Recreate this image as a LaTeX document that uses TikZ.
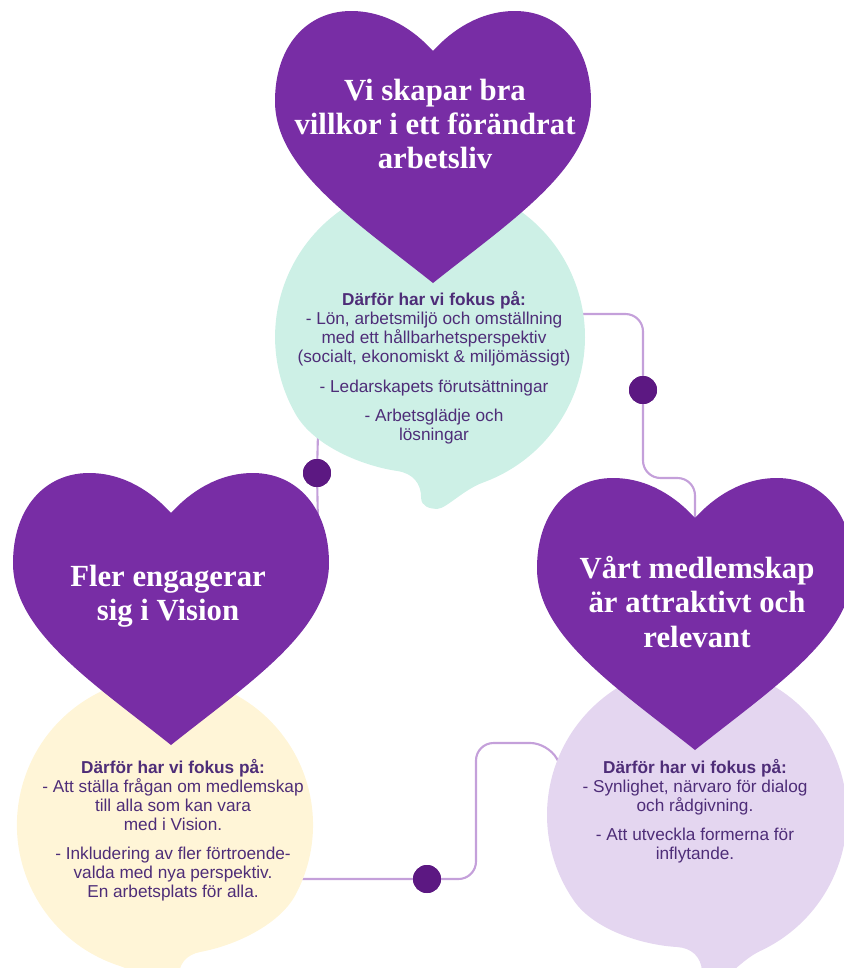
\documentclass[tikz,border=0pt]{standalone}
\usepackage{fontspec}
\setmainfont{Liberation Sans}
\newfontfamily\titlefont{Liberation Serif}
\definecolor{heartpurple}{HTML}{782DA5}
\definecolor{dotpurple}{HTML}{5C1882}
\definecolor{linkpurple}{HTML}{C4A0DA}
\definecolor{mint}{HTML}{CDF0E6}
\definecolor{creme}{HTML}{FFF5D7}
\definecolor{lilac}{HTML}{E4D6F0}
\definecolor{ink}{HTML}{4E2D78}
\tikzset{
    pics/heart/.style={code={
        \fill[heartpurple] (0,0) .. controls (-79,-63) and (-158,-114) .. (-158,-182)
            .. controls (-158,-237) and (-126,-272) .. (-82,-272)
            .. controls (-47,-272) and (-19,-253) .. (0,-232)
            .. controls (19,-253) and (47,-272) .. (82,-272)
            .. controls (126,-272) and (158,-237) .. (158,-182)
            .. controls (158,-114) and (79,-63) .. (0,0) -- cycle;
    }},
    pics/bubble/.style={code={
        \fill[#1] (122.9,86) .. controls (102.8,114.7) and (55,130) .. (20,132)
            .. controls (5,133) and (-4,142) .. (-5,156)
            .. controls (-6,164) and (-14,166) .. (-22,165)
            .. controls (-30,164) and (-45.3,144.4) .. (-63.4,135.9)
            arc[start angle=115, end angle=395, radius=150] -- cycle;
    }},
    title/.style={text=white, align=center, inner sep=0pt,
        font=\titlefont\bfseries\fontsize{17.5}{19.5}\selectfont},
    focus/.style={text=ink, align=center, inner sep=0pt,
        font=\fontsize{9.8}{10.8}\selectfont},
    dot/.style={circle, fill=dotpurple, minimum size=0.56cm, inner sep=0pt},
    link/.style={draw=linkpurple, line width=1.2pt, rounded corners=0.35cm}
}
\begin{document}
\begin{tikzpicture}[x=0.02cm, y=-0.02cm]
        \useasboundingbox (0,0) rectangle (844,968);
        \clip (0,0) rectangle (844,968);

        \coordinate (mintOut) at (583,314);
        \coordinate (mintLeft) at (318,433);
        \coordinate (flerIn) at (318,525);
        \coordinate (vartIn) at (695,518);
        \coordinate (cremeOut) at (300,879);
        \coordinate (lilacIn) at (566,775);

        \node[dot] (rightDot) at (643,390) {};
        \node[dot] (leftDot) at (317,473) {};
        \node[dot] (bottomDot) at (427,879) {};

        \draw[link] (mintOut) -| (rightDot.center) -- ++(0,88) -| (vartIn);
        \draw[link] (mintLeft) -- (leftDot.center) -- (flerIn);
        \draw[link] (cremeOut) -- (bottomDot.center) -| ++(49,-136) -- ++(72,0) -- (lilacIn);

        \pic[scale=1.033, rotate=-5, xscale=-1] at (430,337) {bubble=mint};
        \pic[scale=0.987, rotate=7] at (165,825) {bubble=creme};
        \pic[xscale=-1] at (697,815) {bubble=lilac};

        \pic at (433,283) {heart};
        \pic at (171,745) {heart};
        \pic at (695,750) {heart};

        \node[title] (villkor) at (435,124) {Vi skapar bra\\villkor i ett förändrat\\arbetsliv};
        \node[title] (fler) at (168,596) {Fler engagerar\\sig i Vision};
        \node[title] (vart) at (697,602) {Vårt medlemskap\\är attraktivt och\\relevant};

        \node[focus] (villkorFocus) at (434,368) {
            \textbf{Därför har vi fokus på:}\\
            - Lön, arbetsmiljö och omställning\\
            med ett hållbarhetsperspektiv\\
            (socialt, ekonomiskt \& miljömässigt)\\[6pt]
            - Ledarskapets förutsättningar\\[6pt]
            - Arbetsglädje och\\
            lösningar
        };
        \node[focus] (flerFocus) at (173,830) {
            \textbf{Därför har vi fokus på:}\\
            - Att ställa frågan om medlemskap\\
            till alla som kan vara\\
            med i Vision.\\[6pt]
            - Inkludering av fler förtroende-\\
            valda med nya perspektiv.\\
            En arbetsplats för alla.
        };
        \node[focus] (vartFocus) at (695,811) {
            \textbf{Därför har vi fokus på:}\\
            - Synlighet, närvaro för dialog\\
            och rådgivning.\\[6pt]
            - Att utveckla formerna för\\
            inflytande.
        };

        \node[dot] at (rightDot) {};
        \node[dot] at (leftDot) {};
        \node[dot] at (bottomDot) {};
    \end{tikzpicture}
\end{document}
